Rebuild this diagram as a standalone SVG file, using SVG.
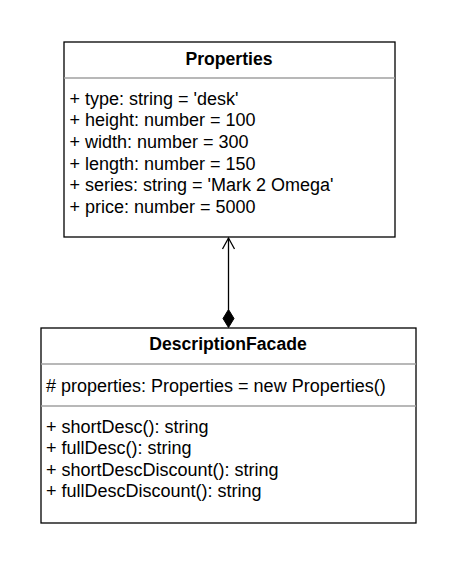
<svg xmlns="http://www.w3.org/2000/svg" width="468" height="576" viewBox="0 0 468 576">
<style>
.box{fill:#fff;stroke:#000;stroke-width:1.3}
.div{stroke:#a0a0a0;stroke-width:1.3}
.t{font-family:"Liberation Sans",Arial,sans-serif;font-size:18px;fill:#000}
.b{font-weight:bold;text-anchor:middle;font-size:17.6px}
.edge{stroke:#000;stroke-width:1.3;fill:none}
</style>
<rect width="468" height="576" fill="#fff"/>
<g id="properties">
<rect class="box" x="64" y="42" width="331" height="195"/>
<line class="div" x1="64" y1="78" x2="395" y2="78"/>
<text class="t b" x="229" y="64.5">Properties</text>
<text class="t" x="69.5" y="104.5">+ type: string = 'desk'</text>
<text class="t" x="69.5" y="126.2">+ height: number = 100</text>
<text class="t" x="69.5" y="147.9">+ width: number = 300</text>
<text class="t" x="69.5" y="169.6">+ length: number = 150</text>
<text class="t" x="69.5" y="191.3">+ series: string = 'Mark 2 Omega'</text>
<text class="t" x="69.5" y="213">+ price: number = 5000</text>
</g>
<g id="descriptionFacade">
<rect class="box" x="41" y="328" width="375" height="195"/>
<line class="div" x1="41" y1="364" x2="416" y2="364"/>
<line class="div" x1="41" y1="406" x2="416" y2="406"/>
<text class="t b" x="228" y="350">DescriptionFacade</text>
<text class="t" x="46" y="391.5"># properties: Properties = new Properties()</text>
<text class="t" x="46" y="432.5">+ shortDesc(): string</text>
<text class="t" x="46" y="454">+ fullDesc(): string</text>
<text class="t" x="46" y="475.5">+ shortDescDiscount(): string</text>
<text class="t" x="46" y="497">+ fullDescDiscount(): string</text>
</g>
<g id="connectors">
<line class="edge" x1="228.5" y1="238" x2="228.5" y2="310"/>
<path class="edge" d="M222.5 249 L228.5 238 L234.5 249"/>
<path d="M228.5 309.5 L234 318.5 L228.5 327.5 L223 318.5 Z" fill="#000" stroke="#000" stroke-width="1"/>
</g>
</svg>
